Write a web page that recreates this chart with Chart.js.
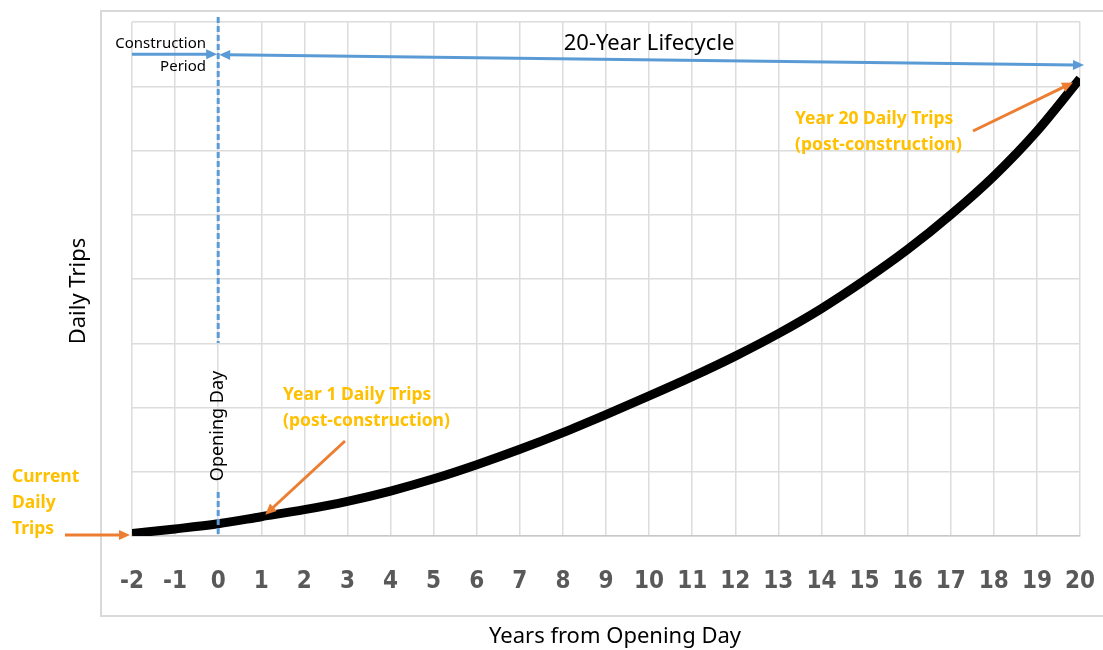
<!DOCTYPE html>
<html>
<head>
<meta charset="utf-8">
<script src="https://cdn.jsdelivr.net/npm/chart.js@4.4.1/dist/chart.umd.min.js"></script>
<style>
  html, body { margin: 0; padding: 0; background: #ffffff; }
  #wrap { width: 1103px; height: 650px; }
</style>
</head>
<body>
<div id="wrap"><canvas id="c" width="1103" height="650"></canvas></div>
<script>
// ---- data ----
const years = [-2, -1, 0, 1, 2, 3, 4, 5, 6, 7, 8, 9, 10, 11, 12, 13, 14, 15, 16, 17, 18, 19, 20];
const dailyTrips = [0.04, 0.11, 0.19, 0.30, 0.41, 0.54, 0.70, 0.89, 1.11, 1.35, 1.61, 1.89, 2.18, 2.48, 2.80, 3.15, 3.54, 3.98, 4.46, 5.00, 5.60, 6.30, 7.12];
const xTickLabels = ['-2', '-1', '0', '1', '2', '3', '4', '5', '6', '7', '8', '9', '10', '11', '12', '13', '14', '15', '16', '17', '18', '19', '20'];
const xAxisTitle = 'Years from Opening Day';
const yAxisTitle = 'Daily Trips';
const lifecycleLabel = '20-Year Lifecycle';
const constructionLabel = ['Construction', 'Period'];
const openingDayLabel = 'Opening Day';
const currentLabel = ['Current', 'Daily', 'Trips'];
const year1Label = ['Year 1 Daily Trips', '(post-construction)'];
const year20Label = ['Year 20 Daily Trips', '(post-construction)'];

const BLUE = '#5b9bd5';
const ORANGE = '#ed7d31';
const GOLD = '#ffc000';
const GRID = '#dcdcdc';
const FONT = "'Noto Sans', 'Open Sans', sans-serif";
const TICKFONT = "'Liberation Sans Narrow', 'DejaVu Sans Condensed', 'DejaVu Sans', sans-serif";

function arrowHead(ctx, x1, y1, x2, y2, color, len, wid) {
  const a = Math.atan2(y2 - y1, x2 - x1);
  ctx.save();
  ctx.fillStyle = color;
  ctx.translate(x2, y2);
  ctx.rotate(a);
  ctx.beginPath();
  ctx.moveTo(0, 0);
  ctx.lineTo(-len, -wid / 2);
  ctx.lineTo(-len, wid / 2);
  ctx.closePath();
  ctx.fill();
  ctx.restore();
}
function arrow(ctx, x1, y1, x2, y2, color, lw, headStart, headEnd) {
  const len = 11, wid = 10;
  const a = Math.atan2(y2 - y1, x2 - x1);
  let sx = x1, sy = y1, ex = x2, ey = y2;
  if (headStart) { sx += Math.cos(a) * len * 0.8; sy += Math.sin(a) * len * 0.8; }
  if (headEnd) { ex -= Math.cos(a) * len * 0.8; ey -= Math.sin(a) * len * 0.8; }
  ctx.save();
  ctx.strokeStyle = color;
  ctx.lineWidth = lw;
  ctx.beginPath();
  ctx.moveTo(sx, sy);
  ctx.lineTo(ex, ey);
  ctx.stroke();
  ctx.restore();
  if (headEnd) arrowHead(ctx, x1, y1, x2, y2, color, len, wid);
  if (headStart) arrowHead(ctx, x2, y2, x1, y1, color, len, wid);
}

const outerFrame = {
  id: 'outerFrame',
  beforeDraw(chart) {
    const ctx = chart.ctx;
    ctx.save();
    ctx.fillStyle = '#ffffff';
    ctx.fillRect(0, 0, chart.width, chart.height);
    ctx.strokeStyle = '#d9d9d9';
    ctx.lineWidth = 2;
    ctx.strokeRect(101, 11, 1010, 605);
    ctx.restore();
  }
};

const annotations = {
  id: 'annotations',
  afterDatasetsDraw(chart) {
    const ctx = chart.ctx;
    const xs = chart.scales.x, ys = chart.scales.y;
    const P = (xv, yv) => [xs.getPixelForValue(xv), ys.getPixelForValue(yv)];
    const area = chart.chartArea;
    const x0 = xs.getPixelForValue(0);

    // Opening day dashed line with gap for its label
    const gapTop = 343, gapBot = 492;
    ctx.save();
    ctx.strokeStyle = BLUE;
    ctx.lineWidth = 3;
    ctx.setLineDash([6, 3]);
    ctx.beginPath();
    ctx.moveTo(x0, 17);
    ctx.lineTo(x0, gapTop);
    ctx.moveTo(x0, gapBot);
    ctx.lineTo(x0, area.bottom + 1);
    ctx.stroke();
    ctx.restore();

    ctx.save();
    ctx.translate(x0, 426);
    ctx.rotate(-Math.PI / 2);
    ctx.fillStyle = '#000';
    ctx.font = '18px ' + FONT;
    ctx.textAlign = 'center';
    ctx.textBaseline = 'middle';
    ctx.fillText(openingDayLabel, 0, 0);
    ctx.restore();

    // Construction period arrow
    const [cx1, cy1] = P(-2, 7.5);
    arrow(ctx, cx1, cy1, x0 - 1, cy1, BLUE, 3, false, true);
    // 20-year lifecycle arrow
    const [lx1, ly1] = P(0, 7.49);
    const [lx2, ly2] = P(20, 7.33);
    arrow(ctx, lx1 + 1, ly1, lx2 + 4, ly2, BLUE, 3, true, true);

    ctx.save();
    ctx.fillStyle = '#000';
    ctx.font = '15px ' + FONT;
    ctx.textAlign = 'right';
    ctx.textBaseline = 'middle';
    ctx.fillText(constructionLabel[0], 206, 44);
    ctx.fillText(constructionLabel[1], 206, 67);
    ctx.font = '22px ' + FONT;
    ctx.textAlign = 'center';
    ctx.fillText(lifecycleLabel, xs.getPixelForValue(10), 44);
    ctx.restore();

    // Orange labels
    ctx.save();
    ctx.fillStyle = GOLD;
    ctx.font = 'bold 17.5px ' + FONT;
    ctx.textAlign = 'left';
    ctx.textBaseline = 'middle';
    currentLabel.forEach((t, i) => ctx.fillText(t, 12, 477 + i * 26));
    year1Label.forEach((t, i) => ctx.fillText(t, 283, 395 + i * 26));
    year20Label.forEach((t, i) => ctx.fillText(t, 795, 119 + i * 26));
    ctx.restore();

    // Orange arrows (pointing at curve points)
    const [s0x] = P(years[0], dailyTrips[0]);
    arrow(ctx, 65, 535, s0x - 2, 535, ORANGE, 3, false, true);
    const [y1x, y1y] = P(years[3], dailyTrips[3]);
    arrow(ctx, 345, 441, y1x + 4, y1y - 2, ORANGE, 3, false, true);
    const [y20x, y20y] = P(years[22], dailyTrips[22]);
    arrow(ctx, 973, 131, y20x - 7, y20y + 4, ORANGE, 3, false, true);

    // Axis titles
    ctx.save();
    ctx.fillStyle = '#000';
    ctx.font = '22px ' + FONT;
    ctx.textAlign = 'center';
    ctx.textBaseline = 'middle';
    ctx.fillText(xAxisTitle, 615, 637);
    ctx.translate(79, 291);
    ctx.rotate(-Math.PI / 2);
    ctx.fillText(yAxisTitle, 0, 0);
    ctx.restore();
  }
};

new Chart(document.getElementById('c'), {
  type: 'line',
  data: {
    datasets: [{
      data: years.map((x, i) => ({ x: x, y: dailyTrips[i] })),
      borderColor: '#000000',
      borderWidth: 9,
      pointRadius: 0,
      cubicInterpolationMode: 'monotone',
      fill: false,
      clip: 0
    }]
  },
  options: {
    responsive: false,
    animation: false,
    layout: { padding: { top: 22, right: 0, left: 0, bottom: 0 } },
    plugins: { legend: { display: false }, tooltip: { enabled: false }, title: { display: false } },
    scales: {
      x: {
        type: 'linear',
        min: -2,
        max: 20,
        afterBuildTicks(s) { s.ticks = years.map(v => ({ value: v })); },
        afterFit(s) { s.height = 114; s.paddingRight = 23; s.paddingLeft = 0; },
        ticks: {
          autoSkip: false,
          maxRotation: 0,
          padding: 31,
          color: '#595959',
          font: { family: TICKFONT, size: 24, weight: 'bold' },
          callback: (v) => xTickLabels[years.indexOf(v)]
        },
        grid: { color: GRID, lineWidth: 1.5, drawTicks: false },
        border: { display: true, color: '#c8c8c8', width: 1.5 }
      },
      y: {
        min: 0,
        max: 8,
        afterFit(s) { s.width = 132; },
        ticks: { display: false, stepSize: 1 },
        grid: { color: GRID, lineWidth: 1.5, drawTicks: false },
        border: { display: false }
      }
    }
  },
  plugins: [outerFrame, annotations]
});
</script>
</body>
</html>
